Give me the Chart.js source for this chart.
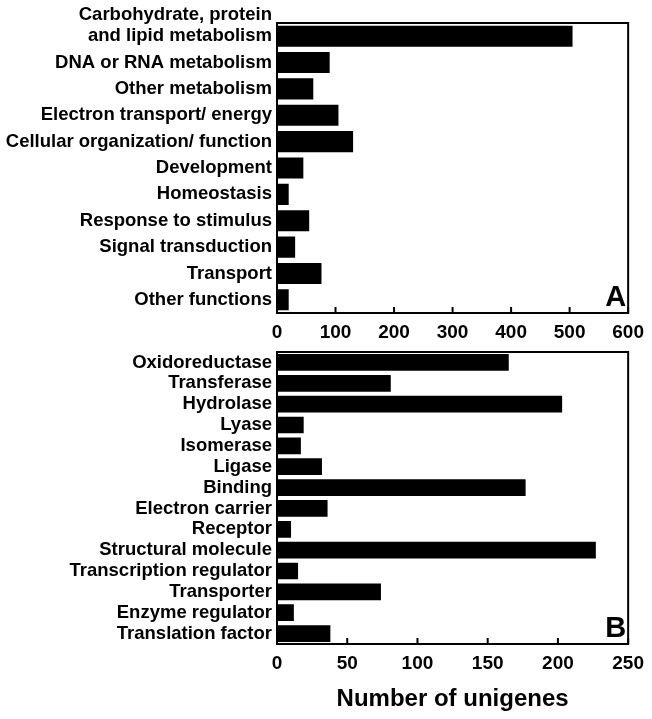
<!DOCTYPE html>
<html>
<head>
<meta charset="utf-8">
<script src="https://cdn.jsdelivr.net/npm/chart.js@4"></script>
<style>
  body { margin: 0; background: #fff; }
  #wrap { position: relative; width: 652px; height: 719px; }
  canvas { position: absolute; left: 0; }
  #chartA { top: 0; }
  #chartB { top: 345px; }
</style>
</head>
<body>
<div id="wrap">
  <canvas id="chartA" width="652" height="345"></canvas>
  <canvas id="chartB" width="652" height="374"></canvas>
</div>
<script>
// ================= DATA =================
const processLabels = [
  ["Carbohydrate, protein", "and lipid metabolism", ""],
  "DNA or RNA metabolism",
  "Other metabolism",
  "Electron transport/ energy",
  "Cellular organization/ function",
  "Development",
  "Homeostasis",
  "Response to stimulus",
  "Signal transduction",
  "Transport",
  "Other functions"
];
const processValues = [505, 90, 62, 105, 130, 45, 20, 55, 31, 76, 20];
const processTicks = [0, 100, 200, 300, 400, 500, 600];

const functionLabels = [
  "Oxidoreductase",
  "Transferase",
  "Hydrolase",
  "Lyase",
  "Isomerase",
  "Ligase",
  "Binding",
  "Electron carrier",
  "Receptor",
  "Structural molecule",
  "Transcription regulator",
  "Transporter",
  "Enzyme regulator",
  "Translation factor"
];
const functionValues = [165, 81, 203, 19, 17, 32, 177, 36, 10, 227, 15, 74, 12, 38];
const functionTicks = [0, 50, 100, 150, 200, 250];

const axisTitle = "Number of unigenes";

// ================= SHARED STYLE =================
const FONT = "'Liberation Sans', Arial, sans-serif";
Chart.defaults.font.family = FONT;
Chart.defaults.font.weight = "bold";
Chart.defaults.color = "#000";

// box round the plot, inward ticks, panel letter
const framePlugin = {
  id: "frame",
  afterDatasetsDraw(chart, args, opts) {
    const { ctx, chartArea: a } = chart;
    const x = chart.scales.x;
    ctx.save();
    ctx.strokeStyle = "#000";
    ctx.lineWidth = 2;
    ctx.strokeRect(a.left, a.top, a.right - a.left, a.bottom - a.top);

    ctx.beginPath();
    x.ticks.forEach(t => {
      const px = x.getPixelForValue(t.value);
      ctx.moveTo(px, a.bottom);
      ctx.lineTo(px, a.bottom - 6);
    });
    ctx.stroke();

    ctx.font = "bold 29px " + FONT;
    ctx.textAlign = "right";
    ctx.textBaseline = "alphabetic";
    ctx.fillStyle = "#000";
    ctx.fillText(opts.letter, a.right - 2, a.bottom - 7);
    ctx.restore();
  }
};

function makeChart(id, labels, values, ticks, letter, opts) {
  const ctx = document.getElementById(id).getContext("2d");
  return new Chart(ctx, {
    type: "bar",
    data: {
      labels: labels,
      datasets: [{
        data: values,
        backgroundColor: "#000",
        borderColor: "#000",
        borderWidth: 0,
        barPercentage: 0.8,
        categoryPercentage: 1
      }]
    },
    plugins: [framePlugin],
    options: {
      indexAxis: "y",
      responsive: false,
      animation: false,
      layout: { padding: { top: opts.top, right: 22, bottom: 0, left: 0 } },
      plugins: {
        legend: { display: false },
        tooltip: { enabled: false },
        frame: { letter: letter }
      },
      scales: {
        y: {
          grid: { display: false, drawTicks: false },
          border: { display: false },
          ticks: {
            padding: 5,
            autoSkip: false,
            font: { size: 18.5, weight: "bold", lineHeight: 1.15 }
          },
          afterFit(scale) {
            scale.width = 277;
            scale.paddingTop = 0;
            scale.paddingBottom = 0;
          }
        },
        x: {
          min: ticks[0],
          max: ticks[ticks.length - 1],
          grid: { display: false, drawTicks: false },
          border: { display: false },
          ticks: {
            stepSize: ticks[1] - ticks[0],
            padding: 8,
            maxRotation: 0,
            font: { size: 19, weight: "bold" }
          },
          title: opts.title ? {
            display: true,
            text: opts.title,
            padding: { top: 4, bottom: 5 },
            font: { size: 24, weight: "bold" }
          } : { display: false },
          afterFit(scale) {
            scale.height = opts.axisHeight;
          }
        }
      }
    }
  });
}

makeChart("chartA", processLabels, processValues, processTicks, "A", { top: 23, axisHeight: 32 });
makeChart("chartB", functionLabels, functionValues, functionTicks, "B", { top: 7, axisHeight: 75, title: axisTitle });
</script>
</body>
</html>
